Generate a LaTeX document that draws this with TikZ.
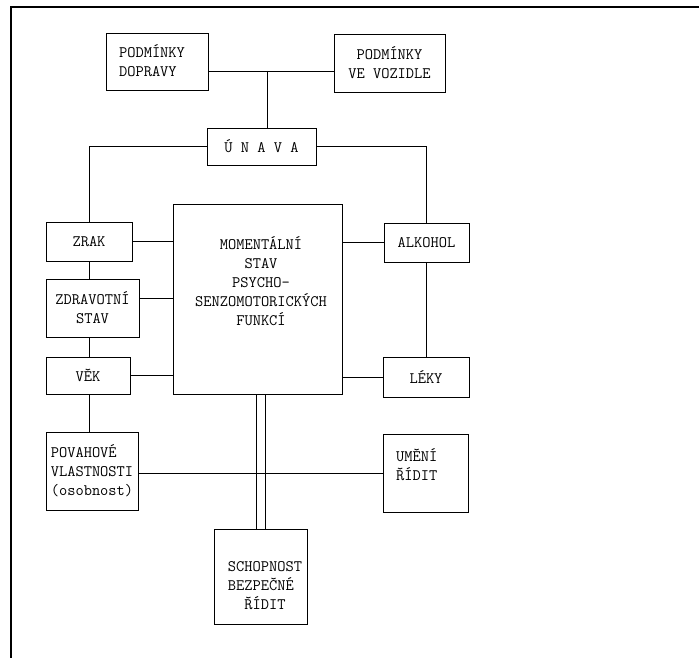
\documentclass[tikz,border=0pt]{standalone}
\usepackage{fontspec}
\begin{document}
\begin{tikzpicture}[x=1pt,y=-1pt,
    box/.style={draw, line width=0.9pt, inner sep=0pt},
    txt/.style={font=\ttfamily\fontsize{16}{19}\selectfont, inner sep=0pt},
    link/.style={draw, line width=0.9pt}]
  \useasboundingbox (0,0) rectangle (699,658);
  \draw[line width=2.4pt] (11,658) -- (11,7) -- (699,7);
  \begin{scope}[every node/.style={box, txt}]
    \node[minimum width=102, minimum height=57] (dop) at (157,61.5) {};
    \node[minimum width=111, minimum height=58, align=center] (voz) at (389.5,63) {PODMÍNKY\\VE VOZIDLE};
    \node[minimum width=109, minimum height=37] (unava) at (261.5,146.5) {Ú N A V A};
    \node[minimum width=86, minimum height=39] (zrak) at (89,241.5) {ZRAK};
    \node[minimum width=93, minimum height=58, align=center] (zdrav) at (92.5,308) {ZDRAVOTNÍ\\STAV};
    \node[minimum width=84, minimum height=37] (vek) at (88,375.5) {VĚK};
    \node[minimum width=92, minimum height=78, align=left] (pov) at (92,471) {POVAHOVÉ\\VLASTNOSTI\\(osobnost)};
    \node[minimum width=169, minimum height=190] (stav) at (257.5,299) {};
    \node[minimum width=85, minimum height=39] (alk) at (426.5,242.5) {ALKOHOL};
    \node[minimum width=86, minimum height=40] (leky) at (426,377) {LÉKY};
    \node[minimum width=85, minimum height=78] (umeni) at (425.5,473) {};
    \node[minimum width=93, minimum height=95] (schop) at (260.5,576.5) {};
  \end{scope}
  \begin{scope}[every node/.style={txt}]
    \node[align=left] at (152,61) {PODMÍNKY\\DOPRAVY};
    \node[align=center] at (261,281) {MOMENTÁLNÍ\\STAV\\PSYCHO-\\SENZOMOTORICKÝCH\\FUNKCÍ};
    \node[align=left, anchor=west] at (396,465) {UMĚNÍ\\ŘÍDIT};
    \node[align=left] at (265,586) {SCHOPNOST\\BEZPEČNÉ\\\phantom{BE}ŘÍDIT};
  \end{scope}
  \begin{scope}[every edge/.style={link}]
    \coordinate (j) at (267,71);
    \path (dop.east |- j) edge (voz.west |- j);
    \path (j) edge (j |- unava.north);
    \path (unava.west) edge[to path={-| (\tikztotarget)}] (zrak.north);
    \path (unava.east) edge[to path={-| (\tikztotarget)}] (alk.north);
    \path (zrak.south) edge (zrak.south |- zdrav.north);
    \path (zdrav.south -| zrak.south) edge (zrak.south |- vek.north);
    \path (vek.south -| zrak.south) edge (zrak.south |- pov.north);
    \path (zrak.east) edge (zrak.east -| stav.west);
    \path ([yshift=10pt]zdrav.east) edge ([yshift=10pt]zdrav.east -| stav.west);
    \path (vek.east) edge (vek.east -| stav.west);
    \path (alk.west) edge (alk.west -| stav.east);
    \path (leky.west) edge (leky.west -| stav.east);
    \path (alk.south) edge (alk.south |- leky.north);
    \path ([xshift=-4.5pt]stav.south -| schop.north) edge ([xshift=-4.5pt]schop.north);
    \path ([xshift=4.5pt]stav.south -| schop.north) edge ([xshift=4.5pt]schop.north);
    \path ([yshift=-2pt]pov.east) edge ([yshift=-2pt]pov.east -| umeni.west);
  \end{scope}
\end{tikzpicture}
\end{document}
